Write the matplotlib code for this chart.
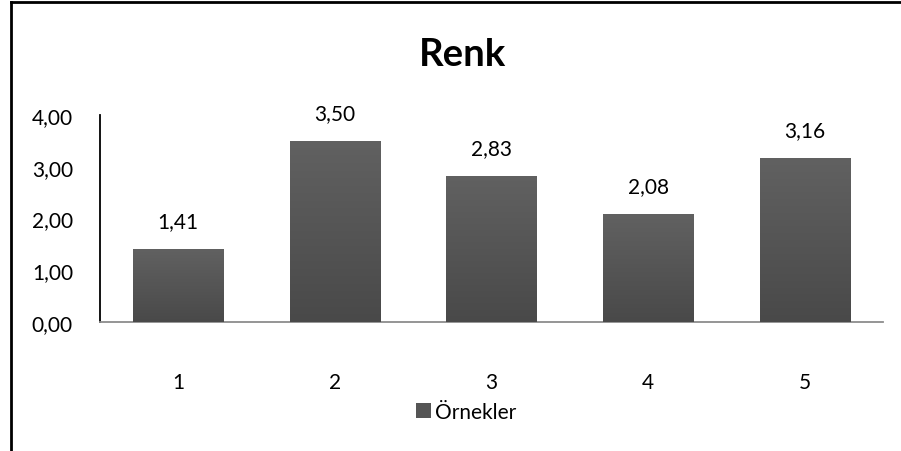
import matplotlib.pyplot as plt
import numpy as np
from matplotlib.lines import Line2D

plt.rcParams['font.family'] = ['Lato', 'DejaVu Sans']

samples = ["1", "2", "3", "4", "5"]
values = [1.41, 3.50, 2.83, 2.08, 3.16]
value_labels = ["1,41", "3,50", "2,83", "2,08", "3,16"]
yticks = [0, 1, 2, 3, 4]
ytick_labels = ["0,00", "1,00", "2,00", "3,00", "4,00"]

fig = plt.figure(figsize=(9.01, 4.52), dpi=100)
ax = fig.add_axes([100/901, 1 - 323/452, 783/901, 207/452])

x = np.arange(len(samples))
bar_width = 0.575
bars = ax.bar(x, values, bar_width, color='#555555', label='Örnekler', zorder=2)

# vertical gradient on each bar
grad = np.linspace(0, 1, 256).reshape(-1, 1)
cmap = plt.matplotlib.colors.LinearSegmentedColormap.from_list('g', ['#494949', '#616161'])
for b in bars:
    x0, y0 = b.get_x(), b.get_y()
    im = ax.imshow(grad, cmap=cmap, aspect='auto', origin='lower',
                   extent=(x0, x0 + b.get_width(), y0, y0 + b.get_height()), zorder=3)
    im.set_clip_path(b)

for xi, v, lab in zip(x, values, value_labels):
    ax.text(xi, v + 0.54, lab, ha='center', va='center', fontsize=15, color='black')

ax.set_xlim(-0.5, len(samples) - 0.5)
ax.set_ylim(0, 4)
ax.set_yticks(yticks)
ax.set_yticklabels(ytick_labels, fontsize=15)
ax.set_xticks(x)
ax.set_xticklabels(samples, fontsize=15)
ax.tick_params(length=0)
ax.tick_params(axis='x', pad=36)
ax.tick_params(axis='y', pad=19.5)
for s in ['top', 'right']:
    ax.spines[s].set_visible(False)
ax.spines['left'].set_color('black')
ax.spines['left'].set_linewidth(1.3)
ax.spines['bottom'].set_color('#8c8c8c')
ax.spines['bottom'].set_linewidth(1.3)

fig.text(462/901, 1 - 55/452, 'Renk', ha='center', va='center', fontsize=27.5, fontweight='bold')

fig.legend(handles=[bars], labels=['Örnekler'], loc='center', bbox_to_anchor=(466/901, 1 - 413/452),
           frameon=False, fontsize=15, handlelength=0.7, handleheight=0.7, handletextpad=0.2)

# chart border (left and top edges)
fig.add_artist(Line2D([11/901, 11/901], [0, 1 - 3/452], color='black', lw=2))
fig.add_artist(Line2D([11/901, 1], [1 - 3/452, 1 - 3/452], color='black', lw=2))

fig.savefig('out.png', dpi=100)
